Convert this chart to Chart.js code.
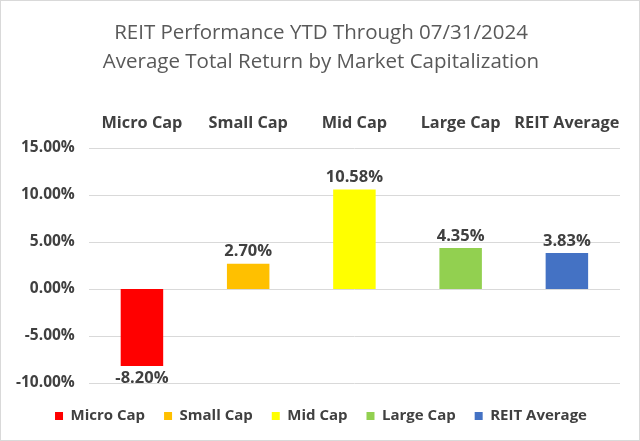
<!DOCTYPE html>
<html><head><meta charset="utf-8">
<script src="https://cdn.jsdelivr.net/npm/chart.js@4.4.1/dist/chart.umd.min.js"></script>
<style>html,body{margin:0;padding:0;background:#fff}#wrap{width:640px;height:441px}</style>
</head><body><div id="wrap"><canvas id="c" width="640" height="441"></canvas></div>
<script>
const categories = ["Micro Cap", "Small Cap", "Mid Cap", "Large Cap", "REIT Average"];
const values = [-8.20, 2.70, 10.58, 4.35, 3.83];
const colors = ["#FF0000", "#FFC000", "#FFFF00", "#92D050", "#4472C4"];
const yTicks = [-10, -5, 0, 5, 10, 15];
const titleLines = ["REIT Performance YTD Through 07/31/2024", "Average Total Return by Market Capitalization"];

const FONT = "'Open Sans', 'Liberation Sans', sans-serif";
const datasets = categories.map((c, i) => ({
  label: c,
  data: categories.map((_, j) => j === i ? values[i] : null),
  backgroundColor: colors[i],
  borderWidth: 0
}));

const labelPlugin = {
  id: 'vals',
  afterDatasetsDraw(chart) {
    const ctx = chart.ctx;
    ctx.save();
    ctx.font = "bold 16.5px " + FONT;
    ctx.fillStyle = "#404040";
    ctx.textAlign = "center";
    ctx.textBaseline = "middle";
    chart.data.datasets.forEach((ds, i) => {
      const meta = chart.getDatasetMeta(i);
      meta.data.forEach((el, j) => {
        const v = ds.data[j];
        if (v === null) return;
        const txt = v.toFixed(2) + "%";
        if (v >= 0) ctx.fillText(txt, el.x, el.y - 12);
        else ctx.fillText(txt, el.x, el.y + 12);
      });
    });
    ctx.restore();
  }
};
const borderPlugin = {
  id: 'frame',
  afterDraw(chart) {
    const ctx = chart.ctx;
    ctx.save();
    ctx.strokeStyle = "#D9D9D9";
    ctx.lineWidth = 1;
    ctx.strokeRect(0.5, 0.5, chart.width - 1, chart.height - 1);
    ctx.restore();
  }
};

new Chart(document.getElementById('c'), {
  type: 'bar',
  data: { labels: categories, datasets },
  plugins: [labelPlugin, borderPlugin],
  options: {
    responsive: false,
    animation: false,
    layout: { padding: { left: 2, right: 0, top: 8, bottom: 7.5 } },
    datasets: { bar: { grouped: false, categoryPercentage: 1, barPercentage: 0.4 } },
    plugins: {
      title: { display: true, text: titleLines, color: "#595959",
        font: { family: FONT, size: 20.5, weight: 'normal', lineHeight: 1.45 }, padding: { top: 10, bottom: 29 } },
      legend: { position: 'bottom', labels: { boxWidth: 8, boxHeight: 8, color: "#404040",
        font: { family: FONT, size: 15, weight: 'bold' }, padding: 19 } },
      tooltip: { enabled: false }
    },
    scales: {
      x: { position: 'top', grid: { display: false }, border: { display: false },
        ticks: { color: "#404040", font: { family: FONT, size: 16.3, weight: 'bold' }, padding: 7,
          maxRotation: 0, minRotation: 0, autoSkip: false } },
      spacer: { type: 'category', position: 'bottom', labels: categories, grid: { display: false },
        border: { display: false }, ticks: { display: false }, afterFit(s) { s.height = 6.5; } },
      rspacer: { type: 'linear', position: 'right', grid: { display: false },
        border: { display: false }, ticks: { display: false }, afterFit(s) { s.width = 20; } },
      y: { min: -10, max: 15, afterBuildTicks(s) { s.ticks = yTicks.map(v => ({ value: v })); },
        grid: { color: "#D9D9D9", drawTicks: false }, border: { display: false },
        ticks: { color: "#404040", font: { family: FONT, size: 15.5, weight: 'bold' }, padding: 14,
          callback: v => v.toFixed(2) + "%" } }
    }
  }
});
</script></body></html>
